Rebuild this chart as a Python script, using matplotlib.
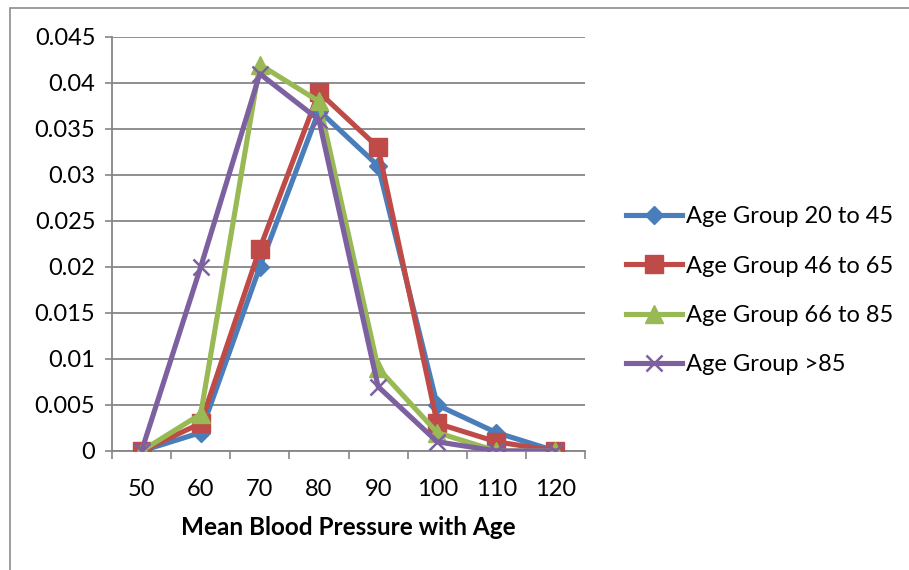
import numpy as np
import matplotlib.pyplot as plt
from matplotlib.patches import Rectangle

categories = ['50', '60', '70', '80', '90', '100', '110', '120']
age_20_45 = [0, 0.002, 0.020, 0.037, 0.031, 0.005, 0.002, 0]
age_46_65 = [0, 0.003, 0.022, 0.039, 0.033, 0.003, 0.001, 0]
age_66_85 = [0, 0.004, 0.042, 0.038, 0.009, 0.002, 0, 0]
age_85_up = [0, 0.020, 0.041, 0.036, 0.007, 0.001, 0, 0]
labels = ['Age Group 20 to 45', 'Age Group 46 to 65', 'Age Group 66 to 85', 'Age Group >85']
yticks = [0, 0.005, 0.01, 0.015, 0.02, 0.025, 0.03, 0.035, 0.04, 0.045]
ytick_labels = ['0', '0.005', '0.01', '0.015', '0.02', '0.025', '0.03', '0.035', '0.04', '0.045']

plt.rcParams['font.family'] = ['Lato', 'DejaVu Sans']

fig = plt.figure(figsize=(9.09, 5.70), dpi=100)
ax = fig.add_axes([0.1232, 0.2088, 0.5204, 0.7263])

x = np.arange(len(categories))
series = [age_20_45, age_46_65, age_66_85, age_85_up]
colors = ['#4A7EBB', '#BE4B48', '#98B954', '#7D60A0']
markers = ['D', 's', '^', 'x']
msizes = [9.5, 13, 13.5, 12]

for vals, c, m, ms, lab in zip(series, colors, markers, msizes, labels):
    ax.plot(x, vals, color=c, lw=3.7, marker=m, markersize=ms,
            markeredgewidth=1.0 if m != 'x' else 1.8, label=lab, zorder=3)

ax.set_xlim(-0.5, 7.5)
ax.set_ylim(0, 0.045)
ax.set_yticks(yticks)
ax.set_yticklabels(ytick_labels)
ax.set_xticks(x)
ax.set_xticklabels(categories)
ax.set_xticks(np.arange(-0.5, 8, 1), minor=True)
ax.tick_params(axis='x', which='major', length=0, pad=20, labelsize=17)
ax.tick_params(axis='x', which='minor', length=6, color='#868686', width=1.2, direction='out')
ax.tick_params(axis='y', length=5, color='#868686', width=1.2, labelsize=17, pad=7)

ax.yaxis.grid(True, color='#868686', lw=1.3)
ax.set_axisbelow(True)
for s in ['top', 'right']:
    ax.spines[s].set_visible(False)
for s in ['left', 'bottom']:
    ax.spines[s].set_color('#868686')
    ax.spines[s].set_linewidth(1.3)

ax.set_xlabel('Mean Blood Pressure with Age', fontsize=17.5, fontweight='bold', labelpad=12)

fig.legend(loc='center left', bbox_to_anchor=(0.665, 0.49), frameon=False,
           fontsize=17, handlelength=2.4, handletextpad=0.15, labelspacing=1.2)

fig.patches.append(Rectangle((0.011, -0.1), 1.5, 1.086, transform=fig.transFigure,
                             fill=False, edgecolor='#8c8c8c', lw=1.2))

fig.savefig('out.png', dpi=100)
